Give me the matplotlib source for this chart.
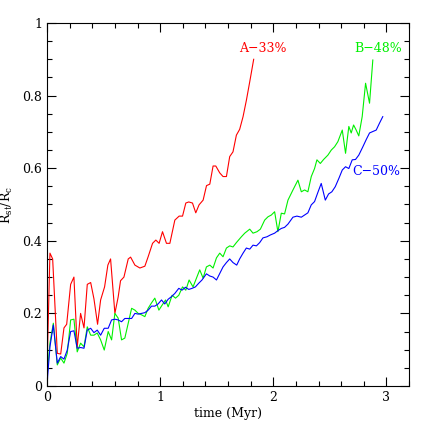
import matplotlib
matplotlib.use("Agg")
import matplotlib.pyplot as plt
from matplotlib.ticker import MultipleLocator

# ---- data ----
a_time = [0.0, 0.026, 0.05, 0.091, 0.121, 0.15, 0.174, 0.209, 0.238, 0.267, 0.297, 0.327,
          0.356, 0.386, 0.415, 0.447, 0.474, 0.509, 0.538, 0.562, 0.60, 0.629, 0.65, 0.68,
          0.718, 0.739, 0.777, 0.821, 0.865, 0.894, 0.933, 0.962, 0.991, 1.021, 1.056, 1.086,
          1.13, 1.168, 1.198, 1.227, 1.253, 1.286, 1.315, 1.344, 1.38, 1.41, 1.439, 1.468,
          1.492, 1.527, 1.556, 1.586, 1.615, 1.644, 1.674, 1.703, 1.733, 1.763, 1.792, 1.827]
a_ratio = [0.04, 0.366, 0.35, 0.09, 0.088, 0.16, 0.17, 0.28, 0.30, 0.107, 0.20, 0.16,
           0.28, 0.285, 0.24, 0.17, 0.237, 0.273, 0.333, 0.35, 0.20, 0.245, 0.29, 0.30,
           0.35, 0.355, 0.333, 0.325, 0.33, 0.356, 0.393, 0.402, 0.393, 0.425, 0.393, 0.393,
           0.457, 0.468, 0.468, 0.504, 0.507, 0.504, 0.477, 0.499, 0.512, 0.552, 0.556, 0.606,
           0.606, 0.587, 0.577, 0.577, 0.632, 0.645, 0.691, 0.707, 0.742, 0.788, 0.838, 0.90]

b_time = [0.0, 0.026, 0.056, 0.091, 0.121, 0.15, 0.179, 0.209, 0.238, 0.267, 0.297, 0.327,
          0.356, 0.386, 0.415, 0.444, 0.474, 0.506, 0.541, 0.571, 0.60, 0.629, 0.659, 0.688,
          0.718, 0.748, 0.777, 0.806, 0.836, 0.865, 0.894, 0.924, 0.953, 0.989, 1.018, 1.048,
          1.071, 1.106, 1.136, 1.165, 1.198, 1.227, 1.256, 1.291, 1.321, 1.35, 1.38, 1.409,
          1.439, 1.468, 1.498, 1.527, 1.556, 1.586, 1.615, 1.644, 1.674, 1.718, 1.748, 1.792,
          1.821, 1.856, 1.886, 1.924, 1.953, 1.983, 2.012, 2.041, 2.071, 2.1, 2.13, 2.174,
          2.218, 2.248, 2.277, 2.306, 2.336, 2.365, 2.386, 2.416, 2.445, 2.483, 2.513, 2.542,
          2.571, 2.61, 2.639, 2.668, 2.689, 2.71, 2.733, 2.756, 2.786, 2.816, 2.851, 2.88]
b_ratio = [0.026, 0.118, 0.173, 0.058, 0.077, 0.063, 0.09, 0.182, 0.184, 0.094, 0.118, 0.108,
           0.163, 0.14, 0.14, 0.146, 0.127, 0.099, 0.15, 0.127, 0.20, 0.187, 0.127, 0.132,
           0.173, 0.214, 0.209, 0.20, 0.196, 0.191, 0.214, 0.229, 0.242, 0.209, 0.223, 0.237,
           0.218, 0.25, 0.242, 0.25, 0.273, 0.264, 0.292, 0.273, 0.297, 0.32, 0.297, 0.328,
           0.333, 0.325, 0.353, 0.366, 0.356, 0.38, 0.386, 0.383, 0.395, 0.411, 0.421, 0.432,
           0.421, 0.425, 0.432, 0.457, 0.466, 0.471, 0.48, 0.425, 0.476, 0.474, 0.512, 0.54,
           0.567, 0.535, 0.54, 0.535, 0.577, 0.599, 0.623, 0.613, 0.624, 0.636, 0.65, 0.659,
           0.673, 0.705, 0.641, 0.715, 0.697, 0.719, 0.705, 0.689, 0.742, 0.834, 0.779, 0.898]

c_time = [0.0, 0.026, 0.056, 0.091, 0.121, 0.15, 0.179, 0.209, 0.238, 0.267, 0.297, 0.327,
          0.356, 0.386, 0.415, 0.444, 0.474, 0.506, 0.541, 0.571, 0.60, 0.629, 0.659, 0.688,
          0.718, 0.748, 0.777, 0.806, 0.836, 0.865, 0.894, 0.924, 0.953, 0.982, 1.012, 1.041,
          1.071, 1.1, 1.13, 1.165, 1.194, 1.224, 1.253, 1.282, 1.312, 1.341, 1.37, 1.409,
          1.439, 1.468, 1.498, 1.527, 1.556, 1.586, 1.615, 1.644, 1.677, 1.703, 1.733, 1.762,
          1.792, 1.821, 1.851, 1.88, 1.909, 1.944, 1.974, 2.012, 2.041, 2.071, 2.1, 2.13,
          2.174, 2.209, 2.248, 2.277, 2.306, 2.336, 2.365, 2.394, 2.424, 2.46, 2.489, 2.518,
          2.548, 2.58, 2.61, 2.639, 2.668, 2.698, 2.727, 2.756, 2.792, 2.822, 2.851, 2.88,
          2.91, 2.939, 2.968]
c_ratio = [0.003, 0.108, 0.168, 0.063, 0.081, 0.074, 0.099, 0.15, 0.152, 0.104, 0.106, 0.104,
           0.154, 0.159, 0.147, 0.154, 0.14, 0.159, 0.159, 0.182, 0.184, 0.182, 0.177, 0.186,
           0.186, 0.186, 0.20, 0.198, 0.20, 0.202, 0.209, 0.22, 0.22, 0.226, 0.237, 0.226,
           0.239, 0.246, 0.255, 0.269, 0.264, 0.272, 0.266, 0.269, 0.273, 0.283, 0.292, 0.309,
           0.303, 0.30, 0.292, 0.31, 0.328, 0.34, 0.35, 0.34, 0.333, 0.35, 0.366, 0.38,
           0.377, 0.388, 0.386, 0.395, 0.408, 0.411, 0.416, 0.421, 0.428, 0.434, 0.437, 0.446,
           0.465, 0.468, 0.465, 0.471, 0.477, 0.499, 0.508, 0.533, 0.558, 0.512, 0.529, 0.535,
           0.549, 0.572, 0.595, 0.604, 0.599, 0.623, 0.624, 0.636, 0.659, 0.679, 0.697, 0.701,
           0.705, 0.724, 0.742]

labels = ["A\u221233%", "B\u221248%", "C\u221250%"]
label_pos = [(1.906, 0.931), (2.93, 0.931), (2.91, 0.59)]
colors = ["#ff0000", "#00f000", "#0000ff"]

plt.rcParams['font.family'] = ['DejaVu Serif']
plt.rcParams['mathtext.fontset'] = 'dejavuserif'

fig = plt.figure(figsize=(4.32, 4.32), dpi=100)
ax = fig.add_axes([0.1088, 0.1065, 0.838, 0.8403])

for t, r, c in zip([a_time, b_time, c_time], [a_ratio, b_ratio, c_ratio], colors):
    ax.plot(t, r, color=c, lw=0.8)

for lab, (x, y), c in zip(labels, label_pos, colors):
    ax.text(x, y, lab, color=c, ha='center', va='center', fontsize=9)

ax.set_xlim(0, 3.2)
ax.set_ylim(0, 1)
ax.xaxis.set_minor_locator(MultipleLocator(0.2))
ax.yaxis.set_minor_locator(MultipleLocator(0.05))
ax.set_yticks([0, 0.2, 0.4, 0.6, 0.8, 1.0])
ax.set_yticklabels(["0", "0.2", "0.4", "0.6", "0.8", "1"])
ax.set_xticks([0, 1, 2, 3])
ax.set_xticklabels(["0", "1", "2", "3"])
ax.tick_params(which='both', direction='in', top=True, right=True, labelsize=9, width=0.8)
ax.tick_params(which='major', length=6.5)
ax.tick_params(which='minor', length=3.5)
for s in ax.spines.values():
    s.set_linewidth(0.8)

ax.set_xlabel("time (Myr)", fontsize=9, labelpad=2)
ax.set_ylabel(r"R$_{\rm st}$/R$_{\rm c}$", fontsize=9)
ax.yaxis.set_label_coords(-0.088, 0.5)

fig.savefig("out.png", dpi=100)
